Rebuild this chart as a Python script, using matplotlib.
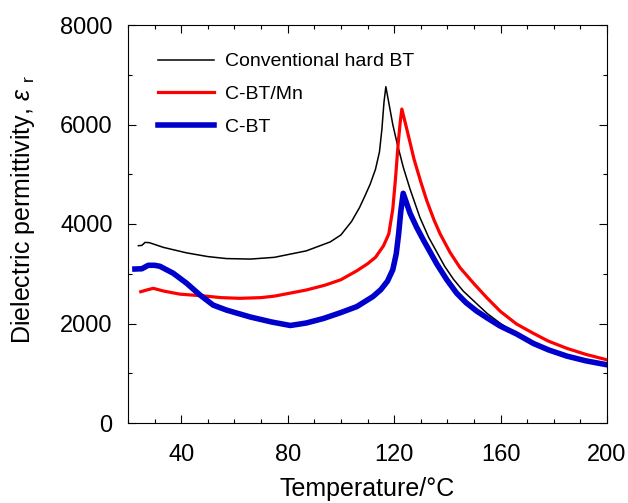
import matplotlib
matplotlib.use("Agg")
import matplotlib.pyplot as plt
from matplotlib.ticker import MultipleLocator

plt.rcParams['font.family'] = ['Liberation Sans', 'DejaVu Sans']
plt.rcParams['mathtext.fontset'] = 'custom'
plt.rcParams['mathtext.rm'] = 'Liberation Sans'
plt.rcParams['mathtext.it'] = 'Liberation Sans:italic'

# --- data ---
t_hard = [23.9, 25.2, 26.4, 28, 33.3, 42, 50, 57, 66, 75, 87, 96, 100, 104, 107, 109, 111,
          113, 114.5, 115.4, 116.2, 116.9, 118.2, 119.5, 121, 123.5, 126, 129.7, 133, 136,
          139, 142.3, 146, 149.8, 155, 160, 166, 172.3, 178, 184.9, 192, 200]
eps_hard = [3564, 3570, 3630, 3625, 3530, 3420, 3345, 3305, 3295, 3330, 3460, 3640, 3780,
            4050, 4330, 4560, 4800, 5100, 5450, 5900, 6450, 6760, 6380, 6000, 5650, 5130,
            4700, 4130, 3730, 3440, 3150, 2890, 2650, 2460, 2200, 2000, 1790, 1614, 1480,
            1367, 1270, 1185]

t_mn = [24.8, 27, 29.5, 33.3, 39.5, 48.3, 55, 62, 70, 75, 87, 94, 100, 106, 110, 113, 116,
        118, 119.5, 120.5, 121.5, 122.3, 122.9, 124.7, 127.5, 130, 132.2, 135, 137.3, 141,
        144.8, 150, 154.8, 160, 166, 172.3, 178, 184.9, 192, 200]
eps_mn = [2639, 2673, 2707, 2653, 2590, 2555, 2520, 2506, 2520, 2550, 2673, 2770, 2880, 3060,
          3200, 3330, 3560, 3800, 4300, 4900, 5600, 6050, 6311, 5923, 5300, 4850, 4480, 4080,
          3800, 3430, 3120, 2800, 2520, 2240, 1990, 1803, 1645, 1501, 1380, 1270]

t_cbt = [22.6, 25.2, 27.6, 30, 32, 37, 42, 47, 52, 57, 66, 74, 81, 87, 93.4, 100, 106, 112,
         115, 117.5, 119.5, 120.8, 121.7, 122.5, 123.4, 126, 128.5, 131, 136, 139.8, 143.5,
         147, 151, 155, 159.8, 166, 172.3, 178, 184.9, 192, 200]
eps_cbt = [3095, 3100, 3170, 3170, 3150, 3010, 2810, 2575, 2370, 2270, 2130, 2030, 1960, 2010,
           2100, 2220, 2340, 2540, 2680, 2850, 3080, 3400, 3800, 4250, 4617, 4215, 3930, 3678,
           3200, 2880, 2610, 2420, 2250, 2110, 1950, 1790, 1600, 1470, 1345, 1250, 1170]

labels = ["Conventional hard BT", "C-BT/Mn", "C-BT"]

fig = plt.figure(figsize=(6.28, 5.03), dpi=100)
ax = fig.add_axes([128 / 628, 80 / 503, 479 / 628, 398 / 503])

ax.plot(t_hard, eps_hard, color='black', lw=1.1, label=labels[0])
ax.plot(t_mn, eps_mn, color='#ff0000', lw=2.3, label=labels[1])
ax.plot(t_cbt, eps_cbt, color='#0000cc', lw=4.0, label=labels[2])

ax.set_xlim(20, 200)
ax.set_ylim(0, 8000)
ax.xaxis.set_major_locator(MultipleLocator(40))
ax.xaxis.set_minor_locator(MultipleLocator(10))
ax.yaxis.set_major_locator(MultipleLocator(2000))
ax.yaxis.set_minor_locator(MultipleLocator(1000))
ax.set_xticks([40, 80, 120, 160, 200])
ax.tick_params(which='both', direction='in', top=True, right=True, labelsize=17, width=0.8)
ax.tick_params(which='major', length=6)
ax.tick_params(which='minor', length=3)
ax.tick_params(axis='x', which='major', pad=15)
ax.tick_params(axis='y', which='major', pad=11)

ax.set_xlabel("Temperature/°C", fontsize=18, labelpad=8)
ax.set_ylabel(r"Dielectric permittivity, $\varepsilon$ $_{\mathrm{r}}$", fontsize=18)
ax.yaxis.set_label_coords(-0.19, 0.535)

ax.legend(loc='upper left', frameon=False, fontsize=14, handlelength=2.9,
          handletextpad=0.55, labelspacing=0.78, borderpad=0, borderaxespad=0,
          bbox_to_anchor=(0.0626, 0.93))

fig.savefig("out.png", dpi=100)
